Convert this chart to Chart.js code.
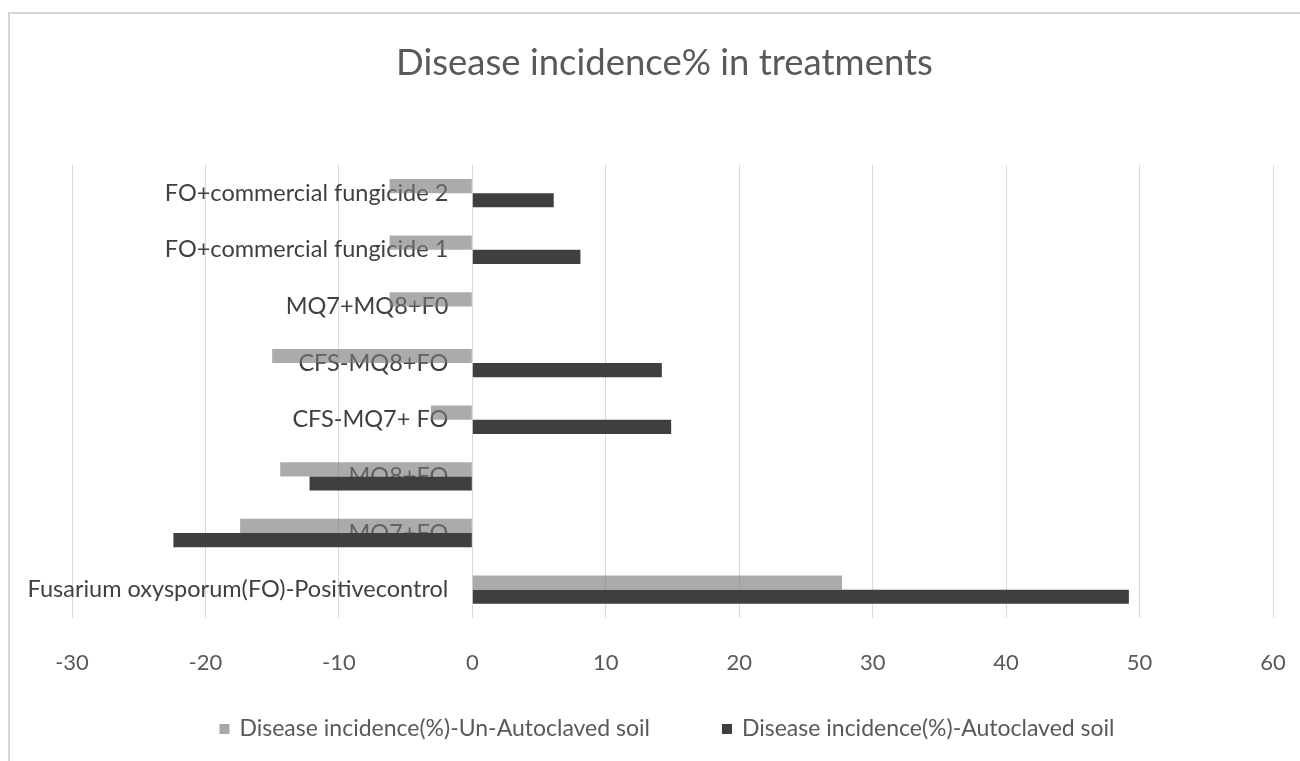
<!DOCTYPE html>
<html>
<head>
<meta charset="utf-8">
<script src="https://cdn.jsdelivr.net/npm/chart.js@4.4.1/dist/chart.umd.min.js"></script>
<style>
  html, body { margin: 0; padding: 0; background: #ffffff; }
  #wrap { position: relative; width: 1300px; height: 761px; }
  #frame {
    position: absolute; left: 8px; top: 12px; right: 0; bottom: 0;
    border-left: 2px solid #d6d6d6; border-top: 2px solid #d6d6d6;
    pointer-events: none;
  }
  canvas { display: block; }
</style>
</head>
<body>
<div id="wrap">
  <canvas id="chart" width="1300" height="761"></canvas>
  <div id="frame"></div>
</div>
<script>
// Treatments, listed from the top row of the chart to the bottom row
const treatments = [
  "FO+commercial fungicide 2",
  "FO+commercial fungicide 1",
  "MQ7+MQ8+F0",
  "CFS-MQ8+FO",
  "CFS-MQ7+ FO",
  "MQ8+FO",
  "MQ7+FO",
  "Fusarium oxysporum(FO)-Positivecontrol"
];

// Disease incidence (%) per treatment
const unAutoclavedSoil = [-6.2, -6.2, -6.2, -15.0, -3.1, -14.4, -17.4, 27.7];
const autoclavedSoil   = [6.1, 8.1, 0, 14.2, 14.9, -12.2, -22.4, 49.2];

const seriesNames = [
  "Disease incidence(%)-Un-Autoclaved soil",
  "Disease incidence(%)-Autoclaved soil"
];

const xTicks = [-30, -20, -10, 0, 10, 20, 30, 40, 50, 60];

const FONT = "Lato, 'Open Sans', sans-serif";

// Category names written just left of the zero line, beneath the bars
const zeroLineLabels = {
  id: 'zeroLineLabels',
  beforeDatasetsDraw(chart) {
    const ctx = chart.ctx;
    const xs = chart.scales.x, ys = chart.scales.y;
    const x0 = xs.getPixelForValue(0) - 24;
    ctx.save();
    ctx.font = "23.5px " + FONT;
    ctx.fillStyle = '#404040';
    ctx.textAlign = 'right';
    ctx.textBaseline = 'middle';
    chart.data.labels.forEach((name, i) => {
      ctx.fillText(name, x0, ys.getPixelForValue(i));
    });
    ctx.restore();
  }
};

// Legend row drawn under the axis, centred below the plot
const bottomLegend = {
  id: 'bottomLegend',
  afterDraw(chart) {
    const ctx = chart.ctx;
    ctx.save();
    ctx.font = "23px " + FONT;
    ctx.textBaseline = 'middle';
    const box = 10, gap = 10, itemGap = 72;
    const items = chart.data.datasets.map(ds => ({
      text: ds.label,
      color: ds.legendColor,
      w: ctx.measureText(ds.label).width
    }));
    const total = items.reduce((s, it) => s + box + gap + it.w, 0) + itemGap * (items.length - 1);
    let x = 667 - total / 2;
    const y = 729;
    items.forEach(it => {
      ctx.fillStyle = it.color;
      ctx.fillRect(x, y - box / 2, box, box);
      x += box + gap;
      ctx.fillStyle = '#595959';
      ctx.fillText(it.text, x, y);
      x += it.w + itemGap;
    });
    ctx.restore();
  }
};

new Chart(document.getElementById('chart'), {
  type: 'bar',
  data: {
    labels: treatments,
    datasets: [
      {
        label: seriesNames[0],
        data: unAutoclavedSoil,
        backgroundColor: 'rgba(120,120,120,0.62)',
        legendColor: '#a8a8a8',
        borderWidth: 0
      },
      {
        label: seriesNames[1],
        data: autoclavedSoil,
        backgroundColor: '#3f3f3f',
        legendColor: '#3f3f3f',
        borderWidth: 0
      }
    ]
  },
  options: {
    indexAxis: 'y',
    responsive: false,
    animation: false,
    categoryPercentage: 0.5,
    barPercentage: 1.0,
    layout: { padding: { left: 56, right: 27, top: 0, bottom: 83 } },
    plugins: {
      legend: { display: false },
      tooltip: { enabled: false },
      title: {
        display: true,
        text: 'Disease incidence% in treatments',
        color: '#595959',
        font: { family: FONT, size: 36.5, weight: 'normal' },
        padding: { top: 41, bottom: 80 }
      }
    },
    scales: {
      x: {
        min: -30,
        max: 60,
        afterBuildTicks(scale) {
          scale.ticks = xTicks.map(v => ({ value: v }));
        },
        afterFit(scale) {
          scale.height = 60;
          // plot starts 72px from the left edge; title stays centred on the frame
          scale.paddingLeft = 72;
          scale.paddingRight = 0;
        },
        grid: { color: '#d9d9d9', lineWidth: 1, drawTicks: false },
        border: { display: false },
        ticks: {
          color: '#595959',
          font: { family: FONT, size: 22 },
          padding: 32
        }
      },
      y: {
        display: false
      }
    }
  },
  plugins: [zeroLineLabels, bottomLegend]
});
</script>
</body>
</html>
